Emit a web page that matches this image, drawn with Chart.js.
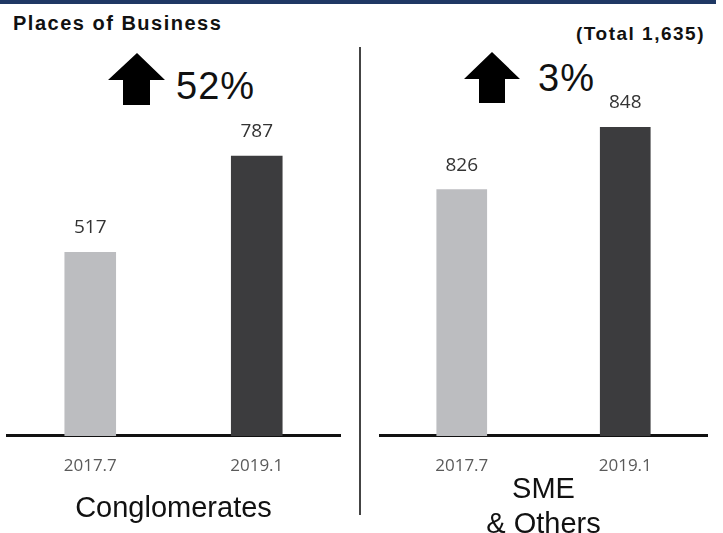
<!DOCTYPE html>
<html>
<head>
<meta charset="utf-8">
<script src="https://cdn.jsdelivr.net/npm/chart.js@4"></script>
<style>
  html, body { margin: 0; padding: 0; background: #fff; overflow: hidden; width: 723px; height: 533px; }
  #wrap { position: relative; width: 723px; height: 533px; overflow: hidden; }
  canvas { position: absolute; top: 0; }
  .topbar { position: absolute; left: 0; top: 0; width: 716px; height: 4px; background: #1f3864; }
  .title { position: absolute; left: 13px; top: 12px; font: bold 20px "Liberation Sans", Arial, sans-serif; letter-spacing: 1.5px; color: #111; }
  .total { position: absolute; right: 18px; top: 23px; font: bold 19px "Liberation Sans", Arial, sans-serif; letter-spacing: 1.5px; color: #111; }
  .pct { position: absolute; font: 38px "Liberation Sans", Arial, sans-serif; color: #111; letter-spacing: 1px; }
  .divider { position: absolute; left: 359px; top: 47px; width: 2px; height: 468px; background: #444; }
  svg { position: absolute; }
</style>
</head>
<body>
<div id="wrap">
  <div class="topbar"></div>
  <div class="title">Places of Business</div>
  <div class="total">(Total 1,635)</div>
  <svg style="left:108px;top:53px" width="58" height="53"><polygon points="29,0 57,27 42,27 42,52 15,52 15,27 0,27" fill="#000"/></svg>
  <div class="pct" style="left:176px;top:65px">52%</div>
  <svg style="left:464px;top:52px" width="57" height="52"><polygon points="28,0 56,27 41,27 41,51 15,51 15,27 0,27" fill="#000"/></svg>
  <div class="pct" style="left:538px;top:57px">3%</div>
  <div class="divider"></div>
  <canvas id="left" width="362" height="533" style="left:0"></canvas>
  <canvas id="right" width="361" height="570" style="left:362px"></canvas>
</div>
<script>
// data
const categories = ['2017.7', '2019.1'];
const conglomerateValues = [517, 787];
const smeValues = [826, 848];
const barColors = ['#bcbdc0', '#3c3c3e'];

// draws the value above each bar
const valueLabels = {
  id: 'valueLabels',
  afterDatasetsDraw(chart) {
    const ctx = chart.ctx;
    const meta = chart.getDatasetMeta(0);
    const values = chart.data.datasets[0].data;
    ctx.save();
    ctx.font = '19px "Open Sans", sans-serif';
    ctx.fillStyle = '#333';
    ctx.textAlign = 'center';
    ctx.textBaseline = 'middle';
    meta.data.forEach((bar, i) => {
      ctx.fillText(values[i], bar.x, bar.y - 24);
    });
    ctx.restore();
  }
};

function makePanel(id, values, yMin, yMax, title, titleLine, pad, titlePad) {
  const ctx = document.getElementById(id).getContext('2d');
  return new Chart(ctx, {
    type: 'bar',
    data: {
      labels: categories,
      datasets: [{
        data: values,
        backgroundColor: barColors,
        barPercentage: 0.31,
        categoryPercentage: 1
      }]
    },
    options: {
      responsive: false,
      animation: false,
      devicePixelRatio: 1,
      layout: { padding: pad },
      plugins: { legend: { display: false }, tooltip: { enabled: false } },
      scales: {
        x: {
          grid: { display: false },
          border: { display: true, color: '#111', width: 3 },
          ticks: { color: '#5a5a5a', font: { family: 'Open Sans', size: 17, lineHeight: 1 }, padding: 14 },
          title: {
            display: true,
            text: title,
            color: '#111',
            font: { family: 'Liberation Sans', size: 29, lineHeight: titleLine },
            padding: titlePad
          }
        },
        y: { display: false, min: yMin, max: yMax }
      }
    },
    plugins: [valueLabels]
  });
}

makePanel('left', conglomerateValues, 0, 1000, 'Conglomerates', 0.9,
  { left: 7, right: 22, top: 80, bottom: 11 }, { top: 7, bottom: 0 });
makePanel('right', smeValues, 739, 860, ['SME', '& Others'], 1.207,
  { left: 18, right: 16, top: 93, bottom: 27.5 }, { top: -16.4, bottom: 0 });
</script>
</body>
</html>
